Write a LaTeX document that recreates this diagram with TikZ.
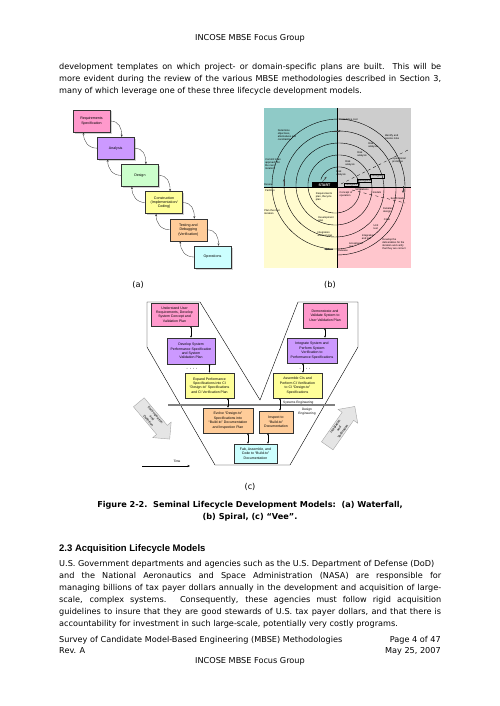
\documentclass[tikz,border=0pt]{standalone}
\usepackage{fontspec}
\setmainfont{DejaVu Sans}
\newfontfamily\diagfont{Liberation Sans}
\usetikzlibrary{arrows.meta,positioning,calc,shadows,shapes.arrows}
\definecolor{lcPink}{HTML}{FF99CC}
\definecolor{lcPurple}{HTML}{CC99FF}
\definecolor{lcGreen}{HTML}{CCFFCC}
\definecolor{lcYellow}{HTML}{FFFF99}
\definecolor{lcOrange}{HTML}{FFCC99}
\definecolor{lcCyan}{HTML}{CCFFFF}
\definecolor{spTeal}{HTML}{8FCAC7}
\definecolor{spGray}{HTML}{CDCDCD}
\definecolor{spYellow}{HTML}{FFFBCF}
\definecolor{spPink}{HTML}{FFC6CD}

\begin{document}
\begin{tikzpicture}[x=1pt,y=-1pt,
    body/.style={font=\fontsize{8.15}{12}\selectfont,inner sep=0pt},
    wfbox/.style={draw=black!80,line width=0.3pt,minimum width=37pt,minimum height=22pt,
                  inner sep=0.5pt,align=center,font=\diagfont\fontsize{3.6}{4.4}\selectfont,
                  drop shadow={shadow xshift=1.5pt,shadow yshift=-1.5pt,fill=black!35}},
    wfarr/.style={-{Stealth[length=2.5pt,width=2pt]},line width=0.35pt,black!75},
    sptext/.style={font=\diagfont\fontsize{2.6}{3}\selectfont,align=left,inner sep=0pt},
    spbox/.style={sptext,draw,line width=0.2pt,inner sep=0.6pt},
    veebox/.style={draw=black!80,line width=0.3pt,align=center,inner sep=0.5pt,
                   font=\diagfont\fontsize{3.5}{4.4}\selectfont,
                   drop shadow={shadow xshift=1.2pt,shadow yshift=-1.2pt,fill=black!35}},
    veearr/.style={{Latex[length=2pt,width=2pt]}-{Latex[length=2pt,width=2pt]},line width=0.5pt},
    bigarrow/.style={single arrow,draw=gray!70,fill=gray!20,single arrow head extend=5pt,
                     minimum height=48pt,minimum width=24pt,inner sep=1pt,align=center,
                     font=\diagfont\fontsize{3.3}{4.6}\selectfont}]
\useasboundingbox (0,0) rectangle (499,706);

% page text
\node[body] (head) at (250,38) {INCOSE MBSE Focus Group};
\node[body,anchor=north west,text width=382pt,align=justify] (par1) at (59,63.5)
  {development templates on which project- or domain-specific plans are built.  This will be\linebreak
   more evident during the review of the various MBSE methodologies described in Section 3,\linebreak
   many of which leverage one of these three lifecycle development models.};

% (a) waterfall
\foreach \i/\c/\t in {0/lcPink/{Requirements\\Specification},1/lcPurple/Analysis,
                      2/lcGreen/Design,3/lcYellow/{Construction\\(Implementation/\\Coding)},
                      4/lcOrange/{Testing and\\Debugging\\(Verification)},5/lcCyan/Operations}
  \node[wfbox,fill=\c] (wf\i) at ({91.5+24.2*\i},{121+27.2*\i}) {\t};
\foreach \i [evaluate=\i as \j using int(\i+1)] in {0,...,4}{
  \draw[wfarr] (wf\i.east) .. controls +(9,0) and +(0,-9) .. ([xshift=6pt]wf\j.north);
  \draw[wfarr] (wf\j.west) .. controls +(-9,0) and +(0,9) .. ([xshift=-8pt]wf\i.south);
}
\node[body] (capa) at (138,285) {(a)};

% (b) spiral
\fill[spTeal] (264,108) rectangle (337,187);
\fill[spGray] (337,108) rectangle (411,187);
\fill[spYellow] (264,187) rectangle (337,268);
\fill[spPink] (337,187) rectangle (411,268);
\draw[line width=0.4pt] (337,108) -- (337,268);
\draw[line width=0.4pt] (264,187) -- (411,187);
\draw[line width=0.3pt,dashed] (341,184) -- (408,150);
\draw[line width=0.3pt,dashed] (352,190) -- (405,203);
\draw[line width=0.4pt] plot[smooth,samples=360,domain=205:1890,variable=\t]
  ({337+min(68,17.8+(\t-205)/30)*cos(\t)},{187+min(68,17.8+(\t-205)/30)*sin(\t)});
\node[fill=black,text=white,font=\diagfont\bfseries\fontsize{3.6}{4}\selectfont,
      minimum width=25pt,minimum height=6pt,inner sep=0pt] (start) at (324.5,185) {START};
\draw[wfarr] (start.north) ++(-2,0) -- ++(4,-5);
\draw[wfarr] (333,131) -- (341,131);
\draw[wfarr] (403,186) -- (403,193);
\draw[wfarr] (333,249) -- (324,249);
\draw[wfarr] (284,186) -- (284,179);
\node[sptext] (sp1) at (287,135) {Determine\\objectives,\\alternatives and\\constraints};
\node[sptext] (sp2) at (273,164) {Commit to an\\approach for\\the next\\iteration};
\node[sptext,anchor=west] (sp3) at (264,184.5) {Review};
\node[sptext,anchor=west] (sp4) at (265,190.5) {Partition};
\node[sptext,anchor=west] (sp5) at (339,120) {Cumulative cost};
\node[sptext] (sp6) at (392,137) {Identify and\\resolve risks};
\node[sptext] (sp7) at (373,145) {Risk\\analysis};
\node[sptext] (sp8) at (362,154) {Risk\\analysis};
\node[sptext] (sp9) at (350,163) {Risk\\analysis};
\node[sptext] (sp10) at (341,173) {Risk\\analysis};
\node[sptext] (sp11) at (399,160) {Operational\\prototype};
\node[spbox] (sp12) at (377,176) {Prototype 3};
\node[spbox] (sp13) at (364,180.5) {Prototype 2};
\node[spbox] (sp14) at (351,184.5) {Prototype 1};
\node[sptext] (sp15) at (346,194) {Concept of\\operation};
\node[sptext] (sp16) at (362,189.5) {Simulations};
\node[sptext] (sp17) at (377,193) {models};
\node[sptext] (sp18) at (398,198.5) {benchmarks};
\node[sptext] (sp19) at (388,210) {Detailed\\design};
\node[sptext] (sp20) at (387,220) {Code};
\node[sptext] (sp21) at (376,227) {Unit\\test};
\node[sptext] (sp22) at (368,237) {Integration\\and test};
\node[sptext] (sp23) at (356,245) {Acceptance\\test};
\node[sptext] (sp24) at (343,251) {Release};
\node[sptext] (sp25) at (394,244) {Develop the\\deliverables for the\\iteration and verify\\that they are correct};
\node[sptext] (sp26) at (324,197) {Requirements\\plan, lifecycle\\plan};
\node[sptext] (sp27) at (326,219) {Development\\plan};
\node[sptext] (sp28) at (325,234) {Integration\\and test plan};
\node[sptext] (sp29) at (272,212) {Plan the next\\iteration};
\node[body] (capb) at (330,285) {(b)};

% (c) vee
\draw[line width=0.4pt] (147,302) -- (200,302) -- (260,400) -- (298,302) -- (358,302)
  -- (358,347) -- (290,465) -- (215,465) -- (147,347) -- cycle;
\draw[gray,line width=1.6pt] (168,405) -- (335,405);
\node[veebox,fill=lcPink,minimum width=47pt,minimum height=23pt] (v1) at (174.5,314.5)
  {Understand User\\Requirements, Develop\\System Concept and\\Validation Plan};
\node[veebox,fill=lcPurple,minimum width=48pt,minimum height=26pt] (v2) at (191,351)
  {Develop System\\Performance Specification\\and System\\Validation Plan};
\node[veebox,fill=lcYellow,minimum width=49pt,minimum height=25pt] (v3) at (209.5,385.5)
  {Expand Performance\\Specifications into CI\\“Design-to” Specifications\\and CI Verification Plan};
\node[veebox,fill=lcOrange,minimum width=50pt,minimum height=25pt] (v4) at (228,420.5)
  {Evolve “Design-to”\\Specifications into\\“Build-to” Documentation\\and Inspection Plan};
\node[veebox,fill=lcOrange,minimum width=34pt,minimum height=22pt] (v5) at (276,422)
  {Inspect to\\“Build-to”\\Documentation};
\node[veebox,fill=lcCyan,minimum width=43pt,minimum height=19pt] (v6) at (255.5,453.5)
  {Fab, Assemble, and\\Code to “Build-to”\\Documentation};
\node[veebox,fill=lcYellow,minimum width=49pt,minimum height=25pt] (r3) at (297.5,385.5)
  {Assemble CIs and\\Perform CI Verification\\to CI “Design-to”\\Specifications};
\node[veebox,fill=lcPurple,minimum width=50pt,minimum height=25pt] (r2) at (312,350.5)
  {Integrate System and\\Perform System\\Verification to\\Performance Specifications};
\node[veebox,fill=lcPink,minimum width=44pt,minimum height=25pt] (r1) at (325,315.5)
  {Demonstrate and\\Validate System to\\User Validation Plan};
\draw[veearr] (v1.south -| v2.north) -- (v2.north);
\draw[veearr] (v2.south -| v3.north) -- (v3.north);
\draw[veearr] (v3.south -| v4.north) -- (v4.north);
\draw[veearr] ([xshift=20pt]v4.south) -- ([xshift=20pt]v4.south |- v6.north);
\draw[veearr] ([xshift=-8pt]v5.south) -- ([xshift=-8pt]v5.south |- v6.north);
\draw[veearr] ([xshift=4pt]v5.north |- r3.south) -- ([xshift=4pt]v5.north);
\draw[veearr] ([xshift=5.5pt]r2.south -| r3.north) -- ([xshift=5.5pt]r3.north);
\draw[veearr] (r1.south) -- (r1.south |- r2.north);
\node[font=\fontsize{5}{5}\selectfont] (dotl) at (192,369) {· · · ·};
\node[font=\fontsize{5}{5}\selectfont] (dotr) at (305,369) {· · · ·};
\node[sptext,font=\diagfont\fontsize{3.2}{3.6}\selectfont,anchor=west] (se) at (283,402.3) {Systems Engineering};
\node[sptext,font=\diagfont\fontsize{3.2}{3.6}\selectfont,align=center] (de) at (307,411.5) {Design\\Engineering};
\node[bigarrow,rotate=-50] (decomp) at (152,418) {Decomposition\\and\\Definition};
\node[bigarrow,rotate=55] (integ) at (339,429) {Integration\\and\\Verification};
\coordinate (t0) at (142,466);
\coordinate (t1) at (190,466);
\draw[-{Stealth[length=2.5pt,width=2pt]},line width=0.35pt] (t0) -- (t1);
\node[sptext,font=\diagfont\fontsize{3.2}{3.6}\selectfont] (time) at (177,461) {Time};
\node[body] (capc) at (250,486.5) {(c)};

% caption, section, text
\node[body,font=\bfseries\fontsize{8.15}{11.5}\selectfont,align=center] (cap) at (250,511)
  {Figure 2-2.\ \ Seminal Lifecycle Development Models:\ \ (a) Waterfall,\\(b) Spiral, (c) “Vee”.};
\node[body,font=\diagfont\bfseries\fontsize{9.5}{11}\selectfont,anchor=west] (sec) at (59,549)
  {2.3 Acquisition Lifecycle Models};
\node[body,anchor=north west,text width=382pt,align=justify] (par2) at (59,560.5)
  {U.S. Government departments and agencies such as the U.S. Department of Defense (DoD)\\
   and the National Aeronautics and Space Administration (NASA) are responsible for\linebreak
   managing billions of tax payer dollars annually in the development and acquisition of large-\linebreak
   scale, complex systems.  Consequently, these agencies must follow rigid acquisition\linebreak
   guidelines to insure that they are good stewards of U.S. tax payer dollars, and that there is\linebreak
   accountability for investment in such large-scale, potentially very costly programs.};

% footer
\node[body,anchor=west] (ft1) at (59,640) {Survey of Candidate Model-Based Engineering (MBSE) Methodologies};
\node[body,anchor=west] (ft2) at (59,651) {Rev. A};
\node[body,anchor=east] (ft3) at (441,640) {Page 4 of 47};
\node[body,anchor=east] (ft4) at (441,651) {May 25, 2007};
\node[body] (ft5) at (250,661) {INCOSE MBSE Focus Group};
\end{tikzpicture}
\end{document}
